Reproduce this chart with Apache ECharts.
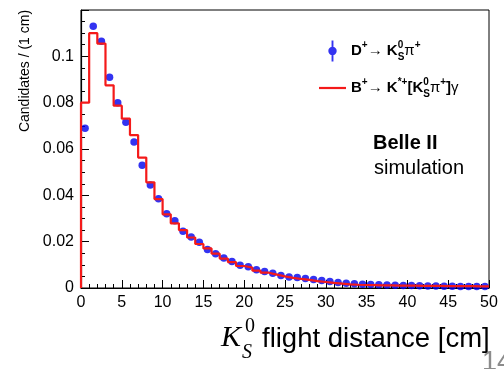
<!DOCTYPE html>
<html>
<head>
<meta charset="utf-8">
<script src="https://cdn.jsdelivr.net/npm/echarts@6/dist/echarts.min.js"></script>
<style>
  html, body { margin: 0; padding: 0; background: #fff; }
  #chart { width: 504px; height: 369px; }
</style>
</head>
<body>
<div id="chart"></div>
<script>
// K_S^0 flight distance, 1 cm bins from 0 to 50 cm
const binCount = 50;
const binWidth = 1;

// D+ -> K_S pi+ (blue points, one per bin)
const dPlusValues = [
  0.069, 0.113, 0.1065, 0.091, 0.080, 0.0715, 0.063, 0.053, 0.0445, 0.0385,
  0.032, 0.029, 0.0245, 0.022, 0.0197, 0.0166, 0.0148, 0.0129, 0.0114, 0.0098,
  0.0092, 0.0079, 0.0071, 0.0064, 0.0054, 0.0048, 0.0045, 0.0041, 0.0037, 0.0032,
  0.0028, 0.0024, 0.0021, 0.0018, 0.0016, 0.0015, 0.0014, 0.0013, 0.0012, 0.0011,
  0.0011, 0.0010, 0.0009, 0.0009, 0.0008, 0.0008, 0.0007, 0.0007, 0.0006, 0.0006
];

// B+ -> K*+ [K_S pi+] gamma (red histogram, one per bin)
const bPlusValues = [
  0.080, 0.110, 0.1055, 0.0875, 0.0787, 0.0731, 0.066, 0.0563, 0.0456, 0.0384,
  0.0318, 0.0279, 0.025, 0.0218, 0.019, 0.0171, 0.0148, 0.0127, 0.0112, 0.0095,
  0.0088, 0.0075, 0.0066, 0.0058, 0.0050, 0.0044, 0.0039, 0.0035, 0.0030, 0.0026,
  0.0022, 0.0019, 0.0016, 0.0014, 0.0013, 0.0012, 0.0011, 0.0011, 0.0010, 0.0010,
  0.0010, 0.0009, 0.0009, 0.0009, 0.0008, 0.0008, 0.0008, 0.0008, 0.0007, 0.0007
];

const seriesNames = ['dplus', 'bplus'];
const yLabelMax = 0.1; // 0.12 is the frame top, not labelled

const chart = echarts.init(document.getElementById('chart'));

// histogram outline: rise from 0 at the first edge, one step per bin
const histData = [[0, 0]];
bPlusValues.forEach((v, i) => histData.push([i * binWidth, v]));
histData.push([binCount * binWidth, bPlusValues[bPlusValues.length - 1]]);

const pointData = dPlusValues.map((v, i) => [(i + 0.5) * binWidth, v]);

const legendText = {
  dplus: '{b|D}{sp|+}{a|→ }{b|K}{z|0}{sb|S}{g|π}{sp|+}',
  bplus: '{b|B}{sp|+}{a|→ }{b|K}{sp|*+}{b|[K}{z|0}{sb|S}{g|π}{sp|+}{b|]}{g|γ}'
};

const font = '"Liberation Sans", Arial, Helvetica, sans-serif';

const option = {
  animation: false,
  backgroundColor: '#fff',
  grid: {
    left: 81, top: 10, right: 15, bottom: 81,
    show: true, borderColor: '#000', borderWidth: 1, backgroundColor: 'transparent'
  },
  legend: {
    orient: 'vertical',
    left: 314,
    top: 35,
    itemWidth: 27,
    itemHeight: 21,
    itemGap: 15,
    data: [
      { name: 'dplus', icon: 'path://M3.1,0 L4.9,0 L4.9,20 L3.1,20 Z M0,10 A4,4 0 1 1 8,10 A4,4 0 1 1 0,10 Z' },
      { name: 'bplus', icon: 'path://M0,0 L27,0 L27,2.2 L0,2.2 Z' }
    ],
    formatter: name => legendText[name],
    textStyle: {
      fontFamily: font,
      rich: {
        b: { fontSize: 15, fontWeight: 'bold', fontFamily: font, color: '#000', lineHeight: 22, verticalAlign: 'middle' },
        a: { fontSize: 15, fontFamily: font, color: '#000', lineHeight: 22, verticalAlign: 'middle' },
        g: { fontSize: 15, fontFamily: font, color: '#000', lineHeight: 22, verticalAlign: 'middle' },
        sp: { fontSize: 10, fontWeight: 'bold', fontFamily: font, color: '#000', lineHeight: 12, verticalAlign: 'top' },
        z: { fontSize: 10, fontWeight: 'bold', fontFamily: font, color: '#000', lineHeight: 12, verticalAlign: 'top', width: 0 },
        sb: { fontSize: 10, fontWeight: 'bold', fontFamily: font, color: '#000', lineHeight: 12, verticalAlign: 'bottom' }
      }
    }
  },
  xAxis: {
    type: 'value',
    min: 0,
    max: 50,
    interval: 5,
    axisLine: { lineStyle: { color: '#000', width: 1.2 } },
    axisTick: { inside: true, length: 8, lineStyle: { color: '#000' } },
    minorTick: { show: true, splitNumber: 5, length: 4, lineStyle: { color: '#000' } },
    splitLine: { show: false },
    axisLabel: { color: '#000', fontSize: 16, fontFamily: font, margin: 7 }
  },
  yAxis: {
    type: 'value',
    min: 0,
    max: 0.12,
    interval: 0.02,
    axisLine: { show: true, lineStyle: { color: '#000', width: 1.2 } },
    axisTick: { show: true, inside: true, length: 8, lineStyle: { color: '#000' } },
    minorTick: { show: true, splitNumber: 4, length: 4, lineStyle: { color: '#000' } },
    splitLine: { show: false },
    axisLabel: {
      color: '#000', fontSize: 16, fontFamily: font, margin: 7,
      formatter: v => (v > yLabelMax + 1e-9 ? '' : String(+v.toFixed(3)))
    }
  },
  series: [
    {
      name: seriesNames[0],
      type: 'scatter',
      data: pointData,
      symbolSize: 7.5,
      itemStyle: { color: '#0000ee' },
      z: 2
    },
    {
      name: seriesNames[1],
      type: 'line',
      step: 'end',
      data: histData,
      symbol: 'none',
      lineStyle: { color: '#f41a1a', width: 2.2 },
      itemStyle: { color: '#f41a1a' },
      z: 3
    }
  ],
  graphic: [
    {
      type: 'text', x: 25, y: 71, rotation: Math.PI / 2,
      style: { text: 'Candidates / (1 cm)', fontSize: 14, fontFamily: font, fill: '#000', align: 'center', verticalAlign: 'middle' }
    },
    {
      type: 'text', x: 221, y: 338,
      style: { text: 'K', fontSize: 30, fontStyle: 'italic', fontFamily: '"Liberation Serif", "Times New Roman", serif', fill: '#000', align: 'left', verticalAlign: 'middle' }
    },
    {
      type: 'text', x: 245, y: 327,
      style: { text: '0', fontSize: 20, fontFamily: '"Liberation Serif", "Times New Roman", serif', fill: '#000', align: 'left', verticalAlign: 'middle' }
    },
    {
      type: 'text', x: 242, y: 353,
      style: { text: 'S', fontSize: 20, fontStyle: 'italic', fontFamily: '"Liberation Serif", "Times New Roman", serif', fill: '#000', align: 'left', verticalAlign: 'middle' }
    },
    {
      type: 'text', x: 262, y: 339,
      style: { text: 'flight distance [cm]', fontSize: 27.5, fontFamily: font, fill: '#000', align: 'left', verticalAlign: 'middle' }
    },
    {
      type: 'text', x: 373, y: 143,
      style: { text: 'Belle II', fontSize: 20, fontWeight: 'bold', fontFamily: font, fill: '#000', align: 'left', verticalAlign: 'middle' }
    },
    {
      type: 'text', x: 374, y: 168,
      style: { text: 'simulation', fontSize: 20, fontFamily: font, fill: '#000', align: 'left', verticalAlign: 'middle' }
    },
    {
      type: 'text', x: 482, y: 349,
      style: { text: '14', fontSize: 27, fontFamily: font, fill: '#8c8c8c', align: 'left', verticalAlign: 'top' }
    }
  ]
};

chart.setOption(option);
</script>
</body>
</html>
